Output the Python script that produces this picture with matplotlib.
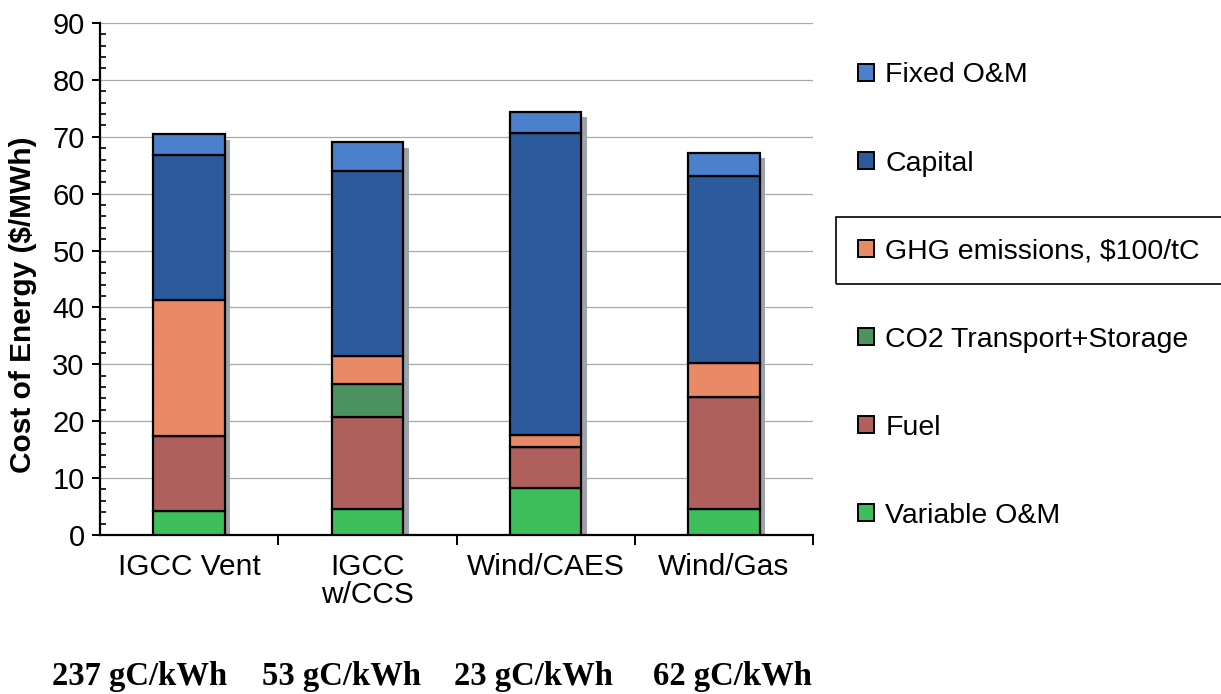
import numpy as np
import matplotlib
matplotlib.use("Agg")
import matplotlib.pyplot as plt
from matplotlib.patches import Patch, Rectangle

# ------------ Data ------------
categories = ["IGCC Vent", "IGCC\nw/CCS", "Wind/CAES", "Wind/Gas"]
variable_om = [4.3, 4.6, 8.3, 4.5]
fuel = [13.1, 16.1, 7.2, 19.7]
co2_storage = [0.0, 5.8, 0.0, 0.0]
ghg = [23.9, 5.0, 2.1, 6.1]
capital = [25.5, 32.4, 53.1, 32.8]
fixed_om = [3.6, 5.1, 3.6, 4.0]
emissions = ["237 gC/kWh", "53 gC/kWh", "23 gC/kWh", "62 gC/kWh"]

series = [
    ("Variable O&M", variable_om, "#3dbf5c"),
    ("Fuel", fuel, "#b0605c"),
    ("CO2 Transport+Storage", co2_storage, "#4c9360"),
    ("GHG emissions, $100/tC", ghg, "#e98a66"),
    ("Capital", capital, "#2c5a9c"),
    ("Fixed O&M", fixed_om, "#4a80cc"),
]

# ------------ Plot ------------
plt.rcParams["font.family"] = ["Liberation Sans", "DejaVu Sans"]
fig = plt.figure(figsize=(12.21, 6.94), dpi=100)
ax = fig.add_axes([0.0819, 0.2291, 0.584, 0.7378])

x = np.arange(len(categories))
width = 0.4
totals = np.sum([s[1] for s in series], axis=0)

# drop shadow behind bars
ax.bar(x + 0.032, totals - 0.9, width, color="#9ea3aa", zorder=2)

bottom = np.zeros(len(categories))
for name, vals, color in series:
    vals = np.array(vals)
    ax.bar(x, vals, width, bottom=bottom, color=color, edgecolor="black",
           linewidth=1.6, zorder=3, label=name)
    bottom += vals

ax.set_xlim(-0.5, 3.5)
ax.set_ylim(0, 90)
ax.set_yticks(range(0, 91, 10))
ax.set_yticks(range(0, 91, 2), minor=True)
ax.yaxis.grid(True, which="major", color="#a8a8a8", linewidth=0.9, zorder=0)
ax.set_axisbelow(True)

ax.set_xticks(x)
ax.set_xticklabels(categories, fontsize=21.5, linespacing=1.0)
ax.set_xticks(np.arange(0.5, 4, 1), minor=True)
ax.tick_params(axis="x", which="major", length=0, pad=13)
ax.tick_params(axis="x", which="minor", direction="out", length=7, width=1.4)
ax.tick_params(axis="y", which="major", direction="out", length=6, width=1.4,
               labelsize=21, pad=5)
ax.tick_params(axis="y", which="minor", direction="in", length=4, width=1.2)

for side in ["top", "right"]:
    ax.spines[side].set_visible(False)
for side in ["left", "bottom"]:
    ax.spines[side].set_linewidth(1.6)

ax.set_ylabel("Cost of Energy ($/MWh)", fontsize=21.5, fontweight="bold")
ax.yaxis.set_label_coords(-0.088, 0.45)

# legend, top to bottom reversed from stacking order
handles = [Patch(facecolor=c, edgecolor="black", linewidth=1.4) for _, _, c in series][::-1]
labels = [n for n, _, _ in series][::-1]
fig.legend(handles, labels, loc="upper left", bbox_to_anchor=(0.703, 0.91),
           frameon=False, fontsize=20.5, handlelength=0.55, handleheight=0.55,
           handletextpad=0.4, labelspacing=2.18, borderpad=0, borderaxespad=0)

# box around GHG entry
fig.add_artist(Rectangle((836 / 1221, 1 - 284 / 694), 400 / 1221, 67 / 694,
                         transform=fig.transFigure, fill=False,
                         edgecolor="black", linewidth=1.2))

# emission intensity labels under the chart
for xp, txt in zip([140, 341, 533, 732], emissions):
    fig.text(xp / 1221, 1 - 676 / 694, txt, ha="center", va="center",
             fontsize=23.5, fontweight="bold", family="Liberation Serif")

fig.savefig("out.png", dpi=100)
